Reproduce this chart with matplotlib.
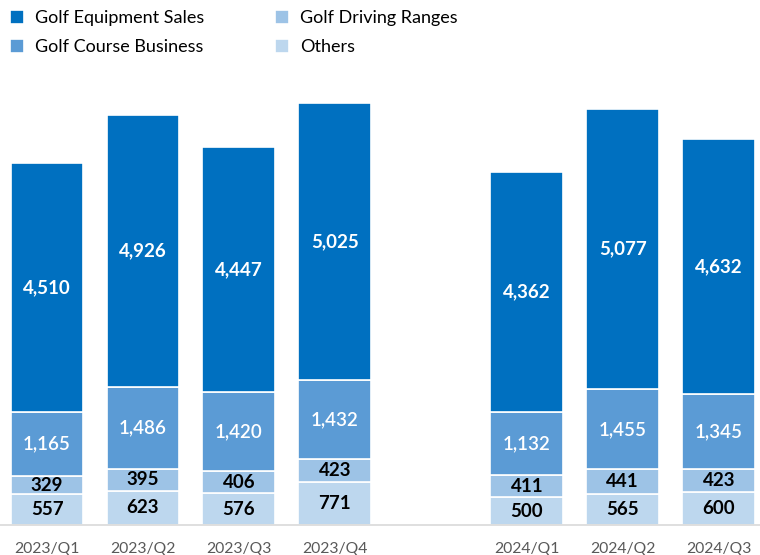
import matplotlib.pyplot as plt
import numpy as np

plt.rcParams['font.family'] = ['Lato', 'DejaVu Sans']

# quarterly sales by segment
quarters = ['2023/Q1', '2023/Q2', '2023/Q3', '2023/Q4', '2024/Q1', '2024/Q2', '2024/Q3']
others = [557, 623, 576, 771, 500, 565, 600]
driving = [329, 395, 406, 423, 411, 441, 423]
course = [1165, 1486, 1420, 1432, 1132, 1455, 1345]
equipment = [4510, 4926, 4447, 5025, 4362, 5077, 4632]

# leave an empty slot between the two years
xpos = np.array([0, 1, 2, 3, 5, 6, 7])

series = [
    ('Others', others, '#BDD7EE', 'black', 'bold'),
    ('Golf Driving Ranges', driving, '#9DC3E6', 'black', 'bold'),
    ('Golf Course Business', course, '#5B9BD5', 'white', 'semibold'),
    ('Golf Equipment Sales', equipment, '#0070C0', 'white', 'bold'),
]

fig = plt.figure(figsize=(7.6, 5.55), dpi=100)
ax = fig.add_axes([0, 30 / 555, 1, 445 / 555])

bottom = np.zeros(len(quarters))
handles = {}
for name, vals, color, tcolor, weight in series:
    vals = np.array(vals)
    bars = ax.bar(xpos, vals, width=0.76, bottom=bottom, color=color,
                  edgecolor='white', linewidth=1.2)
    handles[name] = bars
    for x, b, v in zip(xpos, bottom, vals):
        ax.text(x, b + v / 2, f'{v:,}', ha='center', va='center',
                color=tcolor, fontsize=13.5, fontweight=weight)
    bottom += vals

ax.set_xlim(-0.49, 7.43)
ax.set_ylim(0, 8066)
ax.set_xticks(xpos)
ax.set_xticklabels(quarters, color='#595959', fontsize=11.3)
ax.tick_params(axis='x', length=0, pad=12)
ax.set_yticks([])
for side in ['top', 'left', 'right']:
    ax.spines[side].set_visible(False)
ax.spines['bottom'].set_color('#D9D9D9')
ax.spines['bottom'].set_linewidth(1.2)

order = ['Golf Equipment Sales', 'Golf Course Business', 'Golf Driving Ranges', 'Others']
fig.legend([handles[n] for n in order], order, ncol=2, loc='upper left',
           bbox_to_anchor=(0.0, 1.0), frameon=False, fontsize=13,
           handlelength=0.8, handleheight=0.8, handletextpad=0.6,
           columnspacing=3.9, labelspacing=0.7, borderaxespad=0.15)

fig.savefig('out.png', dpi=100)
